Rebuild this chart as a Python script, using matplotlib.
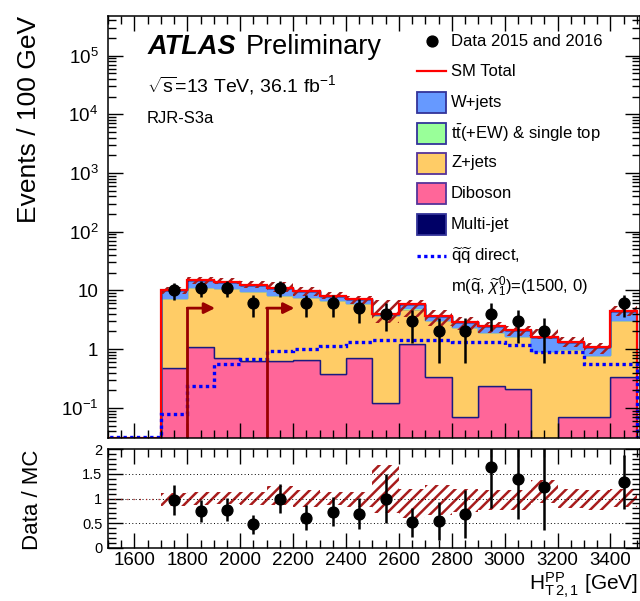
import numpy as np
import matplotlib.pyplot as plt
from matplotlib.patches import Rectangle
from matplotlib.lines import Line2D
from matplotlib.ticker import MultipleLocator, LogLocator, NullFormatter, FuncFormatter, FixedLocator

plt.rcParams['font.family'] = ['Liberation Sans', 'DejaVu Sans']
plt.rcParams['mathtext.fontset'] = 'custom'
plt.rcParams['mathtext.rm'] = 'Liberation Sans'
plt.rcParams['mathtext.it'] = 'Liberation Sans:italic'
plt.rcParams['mathtext.bf'] = 'Liberation Sans:bold'
plt.rcParams['hatch.linewidth'] = 1.8

# bins in H_T 2,1^PP [GeV], 100 GeV wide
edges = np.arange(1500, 3501, 100)
centres = edges[:-1] + 50

# events per bin
data    = [0, 0, 10, 11, 11, 6, 11, 6, 6, 5, 4, 3, 2, 2, 4, 3, 2, 0, 0, 6]
diboson = [0, 0, 0.47, 1.09, 0.71, 0.64, 0.62, 0.65, 0.38, 0.71, 0.12, 1.22,
           0.33, 0.07, 0.24, 0.21, 0.0, 0.07, 0.07, 0.33]
zjets   = [0, 0, 7.05, 10.29, 10.21, 9.05, 7.84, 7.19, 6.57, 5.39, 3.69, 3.70,
           2.81, 2.31, 1.72, 1.48, 0.93, 0.92, 0.72, 2.84]
ttbar   = [0, 0, 0.05, 0.08, 0.06, 0.05, 0.05, 0.04, 0.04, 0.03, 0.02, 0.03,
           0.02, 0.02, 0.02, 0.01, 0.01, 0.01, 0.01, 0.02]
wjets   = [0, 0, 2.73, 3.34, 3.22, 2.86, 2.49, 1.92, 1.21, 1.07, 0.17, 0.85,
           0.54, 0.50, 0.47, 0.45, 0.69, 0.335, 0.27, 1.31]
multijet = [0] * 20
signal  = [0, 0, 0.08, 0.24, 0.55, 0.68, 0.92, 1.0, 1.12, 1.33, 1.46, 1.46,
           1.46, 1.35, 1.33, 1.2, 0.9, 0.9, 0.55, 0.55]
# relative MC uncertainty (up / down)
rel_up = [0, 0, 0.11, 0.13, 0.13, 0.13, 0.25, 0.17, 0.13, 0.13, 0.69, 0.2,
          0.27, 0.2, 0.17, 0.17, 0.37, 0.2, 0.17, 0.2]
rel_dn = [0, 0, 0.15, 0.13, 0.11, 0.13, 0.13, 0.17, 0.13, 0.17, 0.3, 0.4,
          0.33, 0.27, 0.23, 0.23, 0.1, 0.2, 0.23, 0.17]
# selection cuts
cut_values = [1800, 2100]
arrow_y = 5

y_lo, y_hi = 0.031, 4.8e5
floor = 1e-4

col_w = '#6699ff'
col_tt = '#99ff99'
col_z = '#ffcc66'
col_vv = '#ff6699'
col_mj = '#000066'
col_edge = '#1a1a80'
col_hatch = '#a81c1c'
col_cut = '#990000'

W, H = 640, 601
def fx(x):
    return x / W
def fy(y):
    return 1 - y / H

fig = plt.figure(figsize=(6.4, 6.01), dpi=100)
ax = fig.add_axes([fx(108), fy(437.7), 1 - fx(108), fy(15.7) - fy(437.7)])
ax2 = fig.add_axes([fx(108), fy(547.7), 1 - fx(108), fy(449.3) - fy(547.7)])

# stack: diboson, Z+jets, ttbar, W+jets, multi-jet
layers = [(diboson, col_vv, col_edge), (zjets, col_z, col_edge),
          (ttbar, col_tt, col_tt), (wjets, col_w, col_w), (multijet, col_mj, col_mj)]
bottom = np.zeros(20)
for vals, fc, ec in layers:
    top = bottom + np.array(vals)
    ax.stairs(np.maximum(top, floor), edges, baseline=np.maximum(bottom, floor),
              fill=True, facecolor=fc, edgecolor=ec, lw=1.0)
    bottom = top
total = bottom

# uncertainty band
up = total * (1 + np.array(rel_up))
dn = total * (1 - np.array(rel_dn))
ax.stairs(np.maximum(up, floor), edges, baseline=np.maximum(dn, floor), fill=True,
          facecolor='none', edgecolor=col_hatch, hatch='///', lw=0)

# SM total and signal
ax.stairs(np.maximum(total, y_lo), edges, color='red', lw=1.6)
ax.stairs(np.maximum(signal, y_lo * 1.04), edges, color='#0000ff', lw=2.4, ls=(0, (1, 1)))

# cut arrows
for c in cut_values:
    ax.plot([c, c], [y_lo, arrow_y], color=col_cut, lw=2)
    ax.annotate('', xy=(c + 105, arrow_y), xytext=(c, arrow_y),
                arrowprops=dict(arrowstyle='-|>', color=col_cut, lw=2,
                                mutation_scale=16, shrinkA=0, shrinkB=0))

# data
d = np.array(data, dtype=float)
m = d > 0
ax.errorbar(centres[m], d[m], yerr=np.sqrt(d[m]), fmt='o', color='k',
            ms=7.8, elinewidth=1.8, capsize=0)

ax.set_yscale('log')
ax.set_ylim(y_lo, y_hi)
ax.set_xlim(1500, 3512)

def log_fmt(v, pos):
    e = int(round(np.log10(v)))
    if e == 0:
        return '1'
    if e == 1:
        return '10'
    return '$10^{%d}$' % e

ax.yaxis.set_major_locator(FixedLocator([0.1, 1, 10, 1e2, 1e3, 1e4, 1e5]))
ax.yaxis.set_major_formatter(FuncFormatter(log_fmt))
ax.yaxis.set_minor_locator(LogLocator(base=10, subs=np.arange(2, 10), numticks=30))
ax.yaxis.set_minor_formatter(NullFormatter())

for a in (ax, ax2):
    a.xaxis.set_major_locator(MultipleLocator(200))
    a.xaxis.set_minor_locator(MultipleLocator(50))
    a.tick_params(which='both', direction='in', top=True, right=True, width=1.0)
    a.tick_params(which='major', length=11)
    a.tick_params(which='minor', length=5.5)
    for s in a.spines.values():
        s.set_linewidth(1.1)
ax.tick_params(labelbottom=False, labelsize=13.5, pad=7)

# ratio panel
ratio = np.where(m, d / np.where(total > 0, total, 1), np.nan)
rerr = np.where(m, np.sqrt(d) / np.where(total > 0, total, 1), np.nan)
ax2.stairs(1 + np.array(rel_up), edges, baseline=1 - np.array(rel_dn), fill=True,
           facecolor='none', edgecolor=col_hatch, hatch='///', lw=0)
for yv in [0.5, 1, 1.5]:
    ax2.axhline(yv, color='k', lw=0.7, ls=(0, (1, 2.5)))
ax2.plot([1500, 1700], [1, 1], color=col_hatch, lw=0.9, ls=(0, (1, 4)))
ax2.errorbar(centres[m], ratio[m], yerr=rerr[m], fmt='o', color='k',
             ms=7.8, elinewidth=1.8, capsize=0)
ax2.set_xlim(1500, 3512)
ax2.set_ylim(0, 2)
ax2.yaxis.set_major_locator(FixedLocator([0, 0.5, 1, 1.5, 2]))
ax2.yaxis.set_major_formatter(FuncFormatter(lambda v, p: '%g' % v))
ax2.yaxis.set_minor_locator(MultipleLocator(0.1))
ax2.tick_params(axis='y', labelsize=10.5, pad=4)
ax2.tick_params(axis='x', labelsize=13.5, pad=3)

# axis titles
fig.text(fx(29), fy(16), 'Events / 100 GeV', rotation=90, ha='center', va='top', fontsize=19)
fig.text(fx(33), fy(500), 'Data / MC', rotation=90, ha='center', va='center', fontsize=16)
fig.text(fx(638), fy(590.5), r'$\mathrm{H}_{\mathrm{T\,2,1}}^{\mathrm{PP}}$ [GeV]',
         ha='right', va='baseline', fontsize=15)

# labels
fig.text(fx(148), fy(53.5), 'ATLAS', fontsize=19.5, fontweight='bold', fontstyle='italic',
         va='baseline')
fig.text(fx(246), fy(53.5), 'Preliminary', fontsize=19.5, va='baseline')
fig.text(fx(147), fy(91.5), r'$\sqrt{\mathrm{s}}$=13 TeV, 36.1 fb$^{\mathrm{-1}}$',
         fontsize=14, va='baseline')
fig.text(fx(147), fy(123.3), 'RJR-S3a', fontsize=12, va='baseline')

# legend
leg_y = [41, 71, 102, 133, 163, 194, 224, 256, 287]
fs = 12
fig.add_artist(Line2D([fx(432)], [fy(leg_y[0])], marker='o', color='k', ms=7.8))
fig.add_artist(Line2D([fx(417), fx(446)], [fy(leg_y[1])] * 2, color='red', lw=1.6))
boxes = [(col_w, '#333399'), (col_tt, '#333399'), (col_z, '#553399'),
         (col_vv, '#553399'), (col_mj, '#333399')]
for (fc, ec), yy in zip(boxes, leg_y[2:7]):
    fig.add_artist(Rectangle((fx(417), fy(yy + 10.5)), fx(29), 21 / H,
                             facecolor=fc, edgecolor=ec, lw=1.3, transform=fig.transFigure))
fig.add_artist(Line2D([fx(417), fx(446)], [fy(leg_y[7])] * 2, color='#0000ff', lw=2.4,
                      ls=(0, (1, 1))))
labels = ['Data 2015 and 2016', 'SM Total', 'W+jets',
          r'$\mathrm{t\bar{t}}$(+EW) & single top', 'Z+jets', 'Diboson', 'Multi-jet',
          r'$\widetilde{\mathrm{q}}\widetilde{\mathrm{q}}$ direct,',
          r'm($\widetilde{\mathrm{q}}$, $\widetilde{\chi}_{1}^{0}$)=(1500, 0)']
for lab, yy in zip(labels, leg_y):
    fig.text(fx(451), fy(yy), lab, fontsize=fs, va='center', ha='left')

fig.savefig('out.png', dpi=100)
